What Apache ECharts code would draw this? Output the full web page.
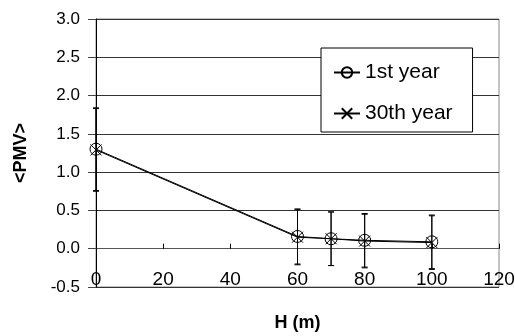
<!DOCTYPE html>
<html>
<head>
<meta charset="utf-8">
<script src="https://cdn.jsdelivr.net/npm/echarts@6/dist/echarts.min.js"></script>
<style>
  html, body { margin: 0; padding: 0; background: #fff; }
  #chart-container { width: 515px; height: 336px; }
</style>
</head>
<body>
<div id="chart-container"></div>
<script>
// chart data
const heights = [0, 60, 70, 80, 100];
const pmvYear1 = [1.30, 0.16, 0.13, 0.11, 0.09];
const pmvYear30 = [1.29, 0.15, 0.13, 0.10, 0.08];
const errYear1 = [0.54, 0.36, 0.35, 0.35, 0.35];
const errYear30 = [0.54, 0.36, 0.35, 0.35, 0.35];
const seriesNames = ["1st year", "30th year"];

const FONT = "Liberation Sans, Arial, sans-serif";
const crossPath = "path://M0,0L10,10M10,0L0,10";

const dom = document.getElementById("chart-container");
const myChart = echarts.init(dom, null, { renderer: "canvas" });

// error bar series built from value + error arrays
const errorBars = (vals, errs) => ({
  type: "custom",
  silent: true,
  z: 3,
  data: heights.map((h, i) => [h, vals[i] - errs[i], vals[i] + errs[i]]),
  renderItem: (params, api) => {
    const lo = api.coord([api.value(0), api.value(1)]);
    const hi = api.coord([api.value(0), api.value(2)]);
    const w = 3;
    const style = { stroke: "#000", lineWidth: 1 };
    return {
      type: "group",
      children: [
        { type: "line", shape: { x1: hi[0], y1: hi[1], x2: lo[0], y2: lo[1] }, style },
        { type: "line", shape: { x1: hi[0] - w, y1: hi[1], x2: hi[0] + w, y2: hi[1] }, style },
        { type: "line", shape: { x1: lo[0] - w, y1: lo[1], x2: lo[0] + w, y2: lo[1] }, style },
      ],
    };
  },
});

const option = {
  animation: false,
  textStyle: { fontFamily: FONT },
  grid: {
    left: 96, right: 16, top: 19, bottom: 49,
    outerBoundsMode: "none",
    containLabel: false,
    show: true, borderColor: "#888", borderWidth: 1,
  },
  legend: {
    orient: "vertical",
    left: 321, top: 48,
    padding: [14, 20, 8, 12],
    itemGap: 20,
    itemWidth: 26, itemHeight: 13,
    backgroundColor: "#fff",
    borderColor: "#000", borderWidth: 1,
    textStyle: { fontSize: 21, color: "#000", fontFamily: FONT },
    data: seriesNames,
  },
  xAxis: {
    type: "value",
    min: 0, max: 120, interval: 20,
    name: "H (m)",
    nameLocation: "middle",
    nameGap: 27,
    nameTextStyle: { fontSize: 18, fontWeight: "bold", color: "#000" },
    axisLine: { onZero: true, lineStyle: { color: "#555", width: 1 } },
    axisTick: { inside: true, length: 5, lineStyle: { color: "#000" } },
    axisLabel: { margin: -17, fontSize: 19, color: "#000", showMaxLabel: true },
    splitLine: { show: false },
  },
  yAxis: {
    type: "value",
    min: -0.5, max: 3, interval: 0.5,
    name: "<PMV>",
    nameLocation: "middle",
    nameGap: 66,
    nameTextStyle: { fontSize: 18, fontWeight: "bold", color: "#000" },
    axisLine: { onZero: false, lineStyle: { color: "#000", width: 1 } },
    axisTick: { show: true, length: 8, lineStyle: { color: "#444" } },
    axisLabel: { margin: 16, fontSize: 17, color: "#000", formatter: (v) => v.toFixed(1) },
    splitLine: { show: true, lineStyle: { color: "#333", width: 1 } },
  },
  series: [
    errorBars(pmvYear1, errYear1),
    errorBars(pmvYear30, errYear30),
    {
      name: seriesNames[0],
      type: "line",
      z: 4,
      data: heights.map((h, i) => [h, pmvYear1[i]]),
      symbol: "circle",
      symbolSize: 12,
      itemStyle: { color: "transparent", borderColor: "#000", borderWidth: 1 },
      lineStyle: { color: "#000", width: 1 },
    },
    {
      name: seriesNames[1],
      type: "line",
      z: 4,
      data: heights.map((h, i) => [h, pmvYear30[i]]),
      symbol: crossPath,
      symbolSize: 11,
      itemStyle: { color: "transparent", borderColor: "#000", borderWidth: 1 },
      lineStyle: { color: "#000", width: 1 },
    },
  ],
};

myChart.setOption(option);
</script>
</body>
</html>
